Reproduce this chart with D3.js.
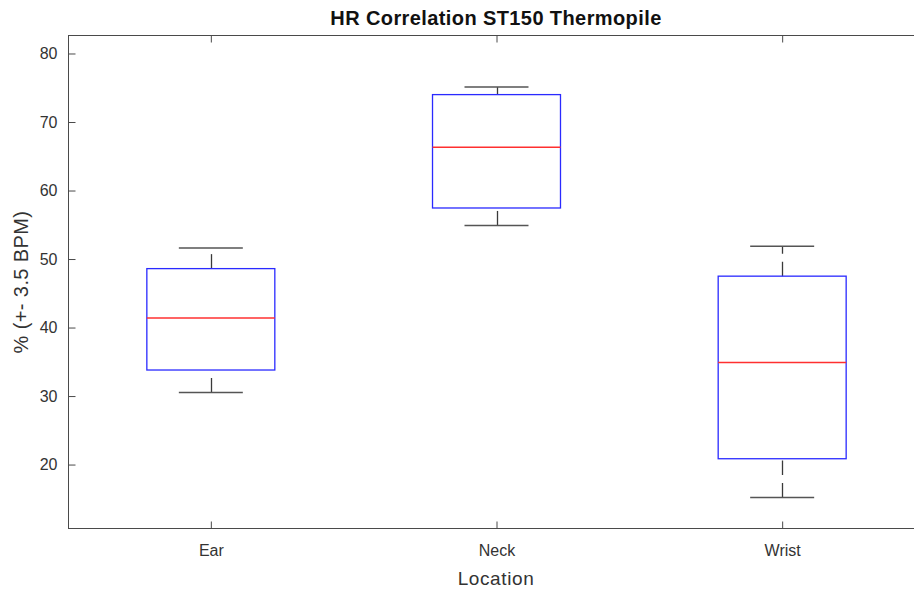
<!DOCTYPE html>
<html>
<head>
<meta charset="utf-8">
<script src="https://cdn.jsdelivr.net/npm/d3@7/dist/d3.min.js"></script>
<style>
  html, body { margin: 0; padding: 0; background: #fff; }
  svg { display: block; font-family: "Liberation Sans", Arial, Helvetica, sans-serif; }
</style>
</head>
<body>
<svg id="chart" width="914" height="592"></svg>
<script>
// Box plot statistics per measurement location
const locations = ["Ear", "Neck", "Wrist"];
const whiskerLow = [30.5, 54.9, 15.2];
const q1 = [33.8, 57.45, 20.85];
const median = [41.4, 66.3, 34.9];
const q3 = [48.6, 74.0, 47.5];
const whiskerHigh = [51.6, 75.1, 51.85];
const yTicks = [20, 30, 40, 50, 60, 70, 80];

(function draw() {
  const svg = d3.select("#chart");
  const plotLeft = 68, plotRight = 925, plotTop = 35, plotBottom = 528;

  const x = d3.scaleLinear().domain([0.5, 3.5]).range([plotLeft, plotRight]);
  const y = d3.scaleLinear().domain([10.74, 82.7]).range([plotBottom, plotTop]);

  const axisColor = "#4a4a4a";
  const textColor = "#333";

  // Axes box
  svg.append("rect")
    .attr("x", plotLeft + 0.5).attr("y", plotTop + 0.5)
    .attr("width", plotRight - plotLeft).attr("height", plotBottom - plotTop)
    .attr("fill", "none").attr("stroke", axisColor).attr("stroke-width", 1);

  // Y axis (ticks inward)
  const yAxis = d3.axisLeft(y).tickValues(yTicks).tickSize(-7).tickPadding(11).tickSizeOuter(0);
  const gy = svg.append("g").attr("transform", `translate(${plotLeft + 0.5},0)`).call(yAxis);
  gy.select(".domain").remove();
  gy.selectAll(".tick line").attr("stroke", axisColor);
  gy.selectAll(".tick text").attr("fill", textColor).attr("font-size", 16)
    .attr("font-family", "Liberation Sans, Arial, sans-serif");

  // X axis (ticks inward) at bottom and top
  const xAxis = d3.axisBottom(x).tickValues([1, 2, 3]).tickFormat((d, i) => locations[i])
    .tickSize(-7).tickPadding(16).tickSizeOuter(0);
  const gx = svg.append("g").attr("transform", `translate(0,${plotBottom + 0.5})`).call(xAxis);
  gx.select(".domain").remove();
  gx.selectAll(".tick line").attr("stroke", axisColor);
  gx.selectAll(".tick text").attr("fill", textColor).attr("font-size", 16)
    .attr("font-family", "Liberation Sans, Arial, sans-serif");

  const xTop = d3.axisTop(x).tickValues([1, 2, 3]).tickFormat("").tickSize(-7).tickSizeOuter(0);
  const gxt = svg.append("g").attr("transform", `translate(0,${plotTop + 0.5})`).call(xTop);
  gxt.select(".domain").remove();
  gxt.selectAll(".tick line").attr("stroke", axisColor);

  // Boxes
  const halfBox = 0.224, halfCap = 0.112;
  const data = locations.map((name, i) => ({
    name, i: i + 1, lo: whiskerLow[i], q1: q1[i], med: median[i], q3: q3[i], hi: whiskerHigh[i]
  }));

  const g = svg.append("g");
  const dash = "14.5,8";

  data.forEach(d => {
    const cx = Math.round(x(d.i)) + 0.5;
    // lower whisker drawn upward from the low end
    g.append("line").attr("x1", cx).attr("x2", cx)
      .attr("y1", y(d.lo)).attr("y2", y(d.q1))
      .attr("stroke", "#3a3a3a").attr("stroke-width", 1.3).attr("stroke-dasharray", dash);
    // upper whisker drawn upward from the box
    g.append("line").attr("x1", cx).attr("x2", cx)
      .attr("y1", y(d.q3)).attr("y2", y(d.hi))
      .attr("stroke", "#3a3a3a").attr("stroke-width", 1.3).attr("stroke-dasharray", dash);
    // caps
    [d.lo, d.hi].forEach(v => {
      g.append("line")
        .attr("x1", x(d.i - halfCap)).attr("x2", x(d.i + halfCap))
        .attr("y1", y(v)).attr("y2", y(v))
        .attr("stroke", "#555").attr("stroke-width", 1.5);
    });
    // box
    g.append("rect")
      .attr("x", x(d.i - halfBox)).attr("y", y(d.q3))
      .attr("width", x(d.i + halfBox) - x(d.i - halfBox))
      .attr("height", y(d.q1) - y(d.q3))
      .attr("fill", "none").attr("stroke", "#2a2aff").attr("stroke-width", 1.3);
    // median
    g.append("line")
      .attr("x1", x(d.i - halfBox)).attr("x2", x(d.i + halfBox))
      .attr("y1", y(d.med)).attr("y2", y(d.med))
      .attr("stroke", "#ff3030").attr("stroke-width", 1.5);
  });

  // Title and axis labels
  svg.append("text").attr("x", 496).attr("y", 25).attr("text-anchor", "middle")
    .attr("font-size", 20).attr("font-weight", "bold").attr("fill", "#111")
    .attr("letter-spacing", 0.4)
    .text("HR Correlation ST150 Thermopile");

  svg.append("text").attr("x", 496).attr("y", 585).attr("text-anchor", "middle")
    .attr("font-size", 19).attr("fill", textColor).attr("letter-spacing", 0.6)
    .text("Location");

  svg.append("text").attr("transform", "translate(28,282) rotate(-90)")
    .attr("text-anchor", "middle").attr("font-size", 20).attr("fill", textColor)
    .attr("letter-spacing", 0.4)
    .text("% (+- 3.5 BPM)");
})();
</script>
</body>
</html>
